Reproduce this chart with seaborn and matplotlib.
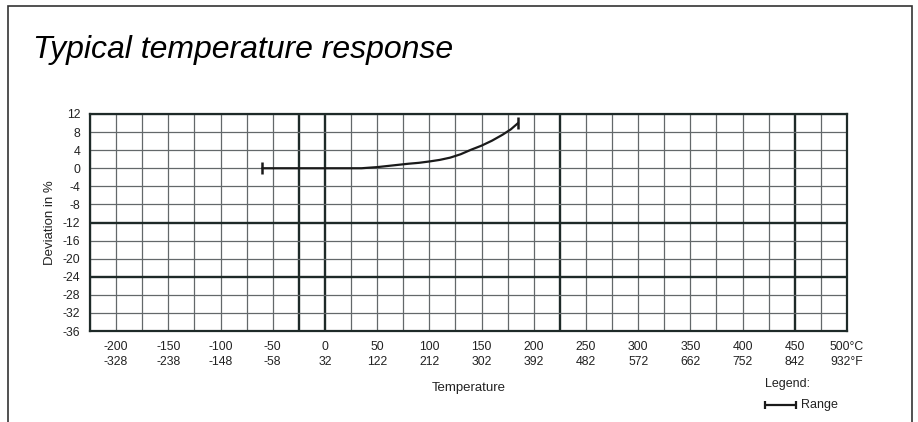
"""
Typical temperature response – deviation in % vs temperature (°C / °F).
Recreated as a seaborn line chart on a dense engineering-style grid.
"""

import numpy as np
import pandas as pd
import matplotlib.pyplot as plt
from matplotlib.patches import Rectangle
from matplotlib.lines import Line2D
import seaborn as sns

# ── data ─────────────────────────────────────────────────────────────────────
temp_c = [-60, -25, 0, 35, 50, 60, 70, 80, 90, 100, 110, 120, 130, 140, 150, 160, 170, 178, 185]
deviation = [0, 0, 0, 0, 0.25, 0.5, 0.75, 1.0, 1.2, 1.5, 1.85, 2.35, 3.1, 4.1, 5.0, 6.1, 7.4, 8.6, 10.0]

tick_c = [-200, -150, -100, -50, 0, 50, 100, 150, 200, 250, 300, 350, 400, 450, 500]
tick_f = [-328, -238, -148, -58, 32, 122, 212, 302, 392, 482, 572, 662, 752, 842, 932]
y_ticks = [12, 8, 4, 0, -4, -8, -12, -16, -20, -24, -28, -32, -36]
thick_x = [-25, 0, 225, 450]
thick_y = [-12, -24]

df = pd.DataFrame({"Temperature": temp_c, "Deviation": deviation})

# ── style ────────────────────────────────────────────────────────────────────
sns.set_theme(style="white")
plt.rcParams["font.family"] = ["Liberation Sans Narrow", "Liberation Sans", "DejaVu Sans"]
plt.rcParams["axes.unicode_minus"] = False

fig = plt.figure(figsize=(9.18, 4.22), dpi=100)
ax = fig.add_axes([90 / 918, 1 - 331 / 422, (847 - 90) / 918, (331 - 114) / 422])

# grid
for x in np.arange(-225, 501, 25):
    lw, col = (1.7, "#1e2a28") if x in thick_x else (0.9, "#63686a")
    ax.axvline(x, color=col, lw=lw, zorder=1)
for y in np.arange(-36, 13, 4):
    lw, col = (1.7, "#1e2a28") if y in thick_y else (0.9, "#63686a")
    ax.axhline(y, color=col, lw=lw, zorder=1)

# curve
sns.lineplot(data=df, x="Temperature", y="Deviation", color="#1a1a1a",
             lw=1.6, ax=ax, zorder=3)
ax.plot([temp_c[0], temp_c[-1]], [deviation[0], deviation[-1]], ls="none",
        marker="|", ms=8, mew=1.8, color="#1a1a1a", zorder=4)

ax.set_xlim(-225, 500)
ax.set_ylim(-36, 12)
ax.set_xticks(tick_c)
labels = [f"{c}\n{f}" for c, f in zip(tick_c, tick_f)]
labels[-1] = f"{tick_c[-1]}°C\n{tick_f[-1]}°F"
ax.set_xticklabels(labels, fontsize=8.8, color="#222", linespacing=1.4)
ax.set_yticks(y_ticks)
ax.set_yticklabels([str(v) for v in y_ticks], fontsize=8.8, color="#222")
ax.tick_params(axis="both", length=0, pad=7)
ax.set_xlabel("Temperature", fontsize=9.5, color="#222", labelpad=10)
ax.set_ylabel("Deviation in %", fontsize=9.5, color="#222", labelpad=5)
for s in ax.spines.values():
    s.set_color("#1e2a28")
    s.set_linewidth(1.6)

# title
fig.text(33 / 918, 1 - 50 / 422, "Typical temperature response", fontsize=23,
         style="italic", family=["Liberation Sans", "DejaVu Sans"],
         color="black", va="center", ha="left")

# legend
fig.text(765 / 918, 1 - 384 / 422, "Legend:", fontsize=9, color="#222",
         va="center", ha="left")
fig.add_artist(Line2D([765 / 918, 796 / 918], [1 - 405 / 422] * 2, color="#1a1a1a",
                      lw=1.6, marker="|", ms=6, mew=1.6, markevery=[0, 1]))
fig.text(801 / 918, 1 - 405 / 422, "Range", fontsize=9, color="#222",
         va="center", ha="left")

# outer frame
fig.add_artist(Rectangle((8 / 918, -0.05), (912 - 8) / 918, 1.05 - 6 / 422,
                         transform=fig.transFigure, fill=False,
                         edgecolor="#333", lw=1.2))

fig.savefig("out.png", dpi=100)
